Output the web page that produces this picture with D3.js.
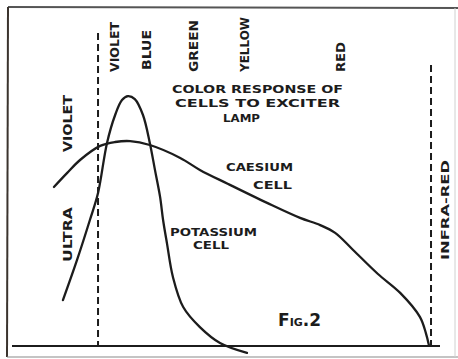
<!DOCTYPE html>
<html>
<head>
<meta charset="utf-8">
<script src="https://cdn.jsdelivr.net/npm/d3@7"></script>
<style>
  html, body { margin: 0; padding: 0; background: #fff; }
  svg { display: block; }
  text { font-family: "DejaVu Sans", sans-serif; font-weight: bold; fill: #1c1c1c; }
</style>
</head>
<body>
<svg id="chart" width="458" height="359"></svg>
<script>
// Spectral position: 0 = deep ultra-violet … ~98 = start of infra-red.
// Response: relative output of each photo-cell (0 = none).
const caesiumPos  = [9.8, 12.9, 15.9, 20.6, 24.1, 27.6, 32.2, 39.3, 43.9, 50.5, 59.6, 67.3, 72.0, 75.5, 79.7, 85.5, 90.7, 95.3, 96.7, 97.4];
const caesiumResp = [53.0, 57.7, 62.0, 66.7, 68.0, 68.3, 67.0, 62.7, 58.7, 54.0, 47.7, 42.7, 40.3, 37.7, 32.0, 24.0, 17.7, 9.7, 4.3, 0.3];

const potassiumPos  = [11.9, 15.2, 18.2, 20.1, 22.2, 24.1, 25.7, 27.1, 28.7, 30.6, 32.2, 33.4, 34.6, 35.3, 36.2, 37.6, 40.0, 43.9, 48.6, 54.9];
const potassiumResp = [15.3, 28.7, 42.0, 51.0, 67.7, 77.0, 82.0, 83.3, 82.3, 77.0, 67.7, 58.7, 49.7, 42.0, 34.3, 23.0, 13.0, 6.3, 1.0, -2.3];

// Visible colour bands and the limits of the visible spectrum
const bandNames = ["VIOLET", "BLUE", "GREEN", "YELLOW", "RED"];
const bandPos   = [24.1, 31.5, 42.5, 54.4, 76.9];
const limitPos  = [20.1, 97.9];

const svg = d3.select("#chart");
const W = 458, H = 359;

const x = d3.scaleLinear().domain([0, 100]).range([12, 440]);
const y = d3.scaleLinear().domain([0, 100]).range([346, 46]);

const ink = "#1c1c1c";

// Paper and frame
svg.append("rect").attr("width", W).attr("height", H).attr("fill", "#fff");
svg.append("line").attr("x1", 8).attr("y1", 7).attr("x2", 458).attr("y2", 8)
  .attr("stroke", "#555").attr("stroke-width", 2);
svg.append("line").attr("x1", 8).attr("y1", 7).attr("x2", 7).attr("y2", 357)
  .attr("stroke", "#3b342e").attr("stroke-width", 2);
svg.append("line").attr("x1", 7).attr("y1", 357).attr("x2", 458).attr("y2", 357)
  .attr("stroke", "#8a8a8a").attr("stroke-width", 1.2);
svg.append("line").attr("x1", 455).attr("y1", 8).attr("x2", 455).attr("y2", 357)
  .attr("stroke", "#d0d0d0").attr("stroke-width", 1);

// Base line (zero response)
svg.append("line")
  .attr("x1", x(0)).attr("x2", x(100) + 0).attr("y1", y(0)).attr("y2", y(0))
  .attr("stroke", ink).attr("stroke-width", 1.8);

// Dashed limits of the visible spectrum
const limitTops = [33, 65];
limitPos.forEach((p, i) => {
  svg.append("line")
    .attr("x1", x(p)).attr("x2", x(p))
    .attr("y1", limitTops[i]).attr("y2", y(0))
    .attr("stroke", ink).attr("stroke-width", 2)
    .attr("stroke-dasharray", "7,4");
});

// Response curves
const line = d3.line().curve(d3.curveCatmullRom.alpha(0.5));
const caesium = caesiumPos.map((p, i) => [x(p), y(caesiumResp[i])]);
const potassium = potassiumPos.map((p, i) => [x(p), y(potassiumResp[i])]);

[caesium, potassium].forEach(pts => {
  svg.append("path").attr("d", line(pts))
    .attr("fill", "none").attr("stroke", ink)
    .attr("stroke-width", 2.3).attr("stroke-linecap", "round").attr("stroke-linejoin", "round");
});

// Rotated band names along the top
const bandStart = [72, 70, 72, 72, 72];
const bandLen   = [50, 40, 52, 55, 30];
bandNames.forEach((name, i) => {
  svg.append("text")
    .attr("transform", `translate(${x(bandPos[i])},${bandStart[i]}) rotate(-90)`)
    .attr("dy", "0.36em")
    .attr("font-size", 12)
    .attr("textLength", bandLen[i]).attr("lengthAdjust", "spacingAndGlyphs")
    .text(name);
});

// Helper for upright rotated labels
function vlabel(px, yStart, len, str, size) {
  svg.append("text")
    .attr("transform", `translate(${px},${yStart}) rotate(-90)`)
    .attr("dy", "0.36em")
    .attr("font-size", size)
    .attr("textLength", len).attr("lengthAdjust", "spacingAndGlyphs")
    .text(str);
}
vlabel(68, 152, 57, "VIOLET", 12);
vlabel(68, 262, 55, "ULTRA", 12);
vlabel(445, 260, 100, "INFRA-RED", 11);

// Horizontal labels
function hlabel(px, py, len, str, size) {
  svg.append("text")
    .attr("x", px).attr("y", py)
    .attr("dy", "0.36em")
    .attr("font-size", size)
    .attr("textLength", len).attr("lengthAdjust", "spacingAndGlyphs")
    .text(str);
}
hlabel(172, 89, 171, "COLOR  RESPONSE   OF", 10.5);
hlabel(175, 103, 165, "CELLS  TO  EXCITER", 10.5);
hlabel(223, 118, 37, "LAMP", 10.5);

hlabel(226, 167, 67, "CAESIUM", 10.5);
hlabel(253, 185, 39, "CELL", 10.5);

hlabel(170, 232, 87, "POTASSIUM", 10.5);
hlabel(193, 245, 36, "CELL", 10.5);

// Figure number
const fig = svg.append("text").attr("x", 278).attr("y", 326).attr("font-size", 17);
fig.append("tspan").text("F");
fig.append("tspan").attr("font-size", 11).text("IG");
fig.append("tspan").text(".2");
</script>
</body>
</html>
